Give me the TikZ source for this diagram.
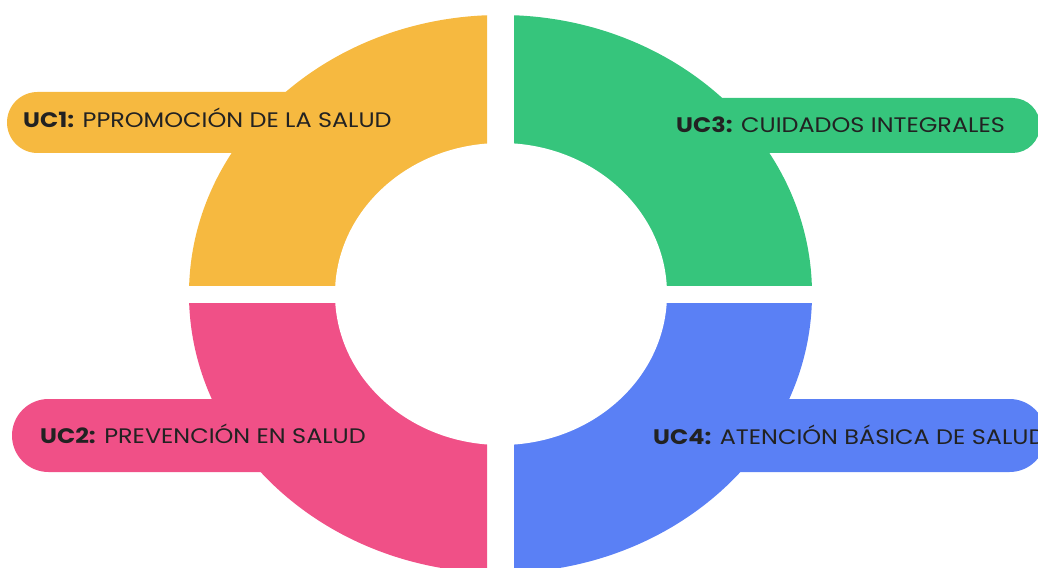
\documentclass[tikz,border=0pt]{standalone}
\usepackage{fontspec}
\setmainfont{Poppins}
\definecolor{ycol}{HTML}{F6B940}
\definecolor{gcol}{HTML}{36C57C}
\definecolor{pcol}{HTML}{F05087}
\definecolor{bcol}{HTML}{5A80F5}
\definecolor{txt}{HTML}{222222}
\newcommand{\lbltext}[2]{\scalebox{1.14}[1]{\textbf{#1} #2}}
\begin{document}
\begin{tikzpicture}[x=1bp,y=-1bp,
  lbl/.style={anchor=base west, inner sep=0pt, text=txt, font=\fontsize{21bp}{25bp}\selectfont}]
\useasboundingbox (0,0) rectangle (1038,568);
\clip (0,0) rectangle (1038,568);
% quadrants of the ring
\begin{scope}\clip (0,0) rectangle (487,285);
  \fill[ycol] (500.5,294) ellipse [x radius=311.5bp, y radius=279bp];\end{scope}
\begin{scope}\clip (514,0) rectangle (1038,285);
  \fill[gcol] (500.5,294) ellipse [x radius=311.5bp, y radius=279bp];\end{scope}
\begin{scope}\clip (0,303) rectangle (487,568);
  \fill[pcol] (500.5,294) ellipse [x radius=311.5bp, y radius=279bp];\end{scope}
\begin{scope}\clip (514,303) rectangle (1038,568);
  \fill[bcol] (500.5,294) ellipse [x radius=311.5bp, y radius=279bp];\end{scope}
\fill[white] (501,294) ellipse [x radius=166bp, y radius=151bp];
% banners
\fill[ycol, rounded corners=30.5bp] (7,92) rectangle (400,153);
\fill[gcol, rounded corners=27.5bp] (600,98) rectangle (1040,153);
\fill[pcol, rounded corners=36.5bp] (12,399) rectangle (370,472);
\fill[bcol, rounded corners=36.5bp] (640,399) rectangle (1046,472);
% labels
\node[lbl] (uc1) at (23,128) {\lbltext{UC1:}{PPROMOCIÓN DE LA SALUD}};
\node[lbl] (uc3) at (676,133) {\lbltext{UC3:}{CUIDADOS INTEGRALES}};
\node[lbl] (uc2) at (40,443) {\lbltext{UC2:}{PREVENCIÓN EN SALUD}};
\node[lbl] (uc4) at (653,444) {\lbltext{UC4:}{ATENCIÓN BÁSICA DE SALUD}};
\end{tikzpicture}
\end{document}
